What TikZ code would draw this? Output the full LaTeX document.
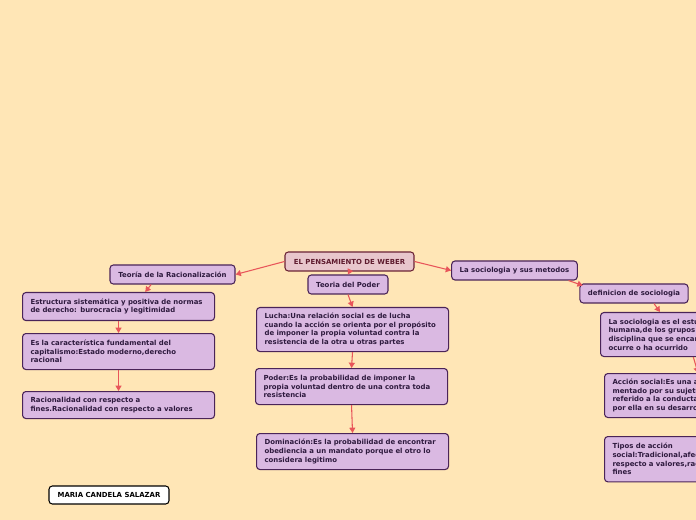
\documentclass[tikz,border=0pt]{standalone}
\usepackage{fontspec}
\setmainfont{DejaVu Sans}
\usetikzlibrary{arrows.meta,calc}
\definecolor{bg}{HTML}{FFE6B6}
\definecolor{lil}{HTML}{DAB9E2}
\definecolor{lilb}{HTML}{4A2458}
\definecolor{lilt}{HTML}{2E1A3E}
\definecolor{mainf}{HTML}{E8C6CC}
\definecolor{mainb}{HTML}{6B2335}
\definecolor{maint}{HTML}{5E1B2E}
\definecolor{arr}{HTML}{E8555A}
\begin{document}
\begin{tikzpicture}[x=0.75pt,y=-0.75pt,
  every node/.style={font=\fontsize{5.2}{6.5}\selectfont\bfseries},
  box/.style={draw=lilb,fill=lil,text=lilt,line width=0.8pt,rounded corners=2.5pt,inner xsep=6pt,inner ysep=2pt},
  onebox/.style={box,align=center,minimum height=14.25pt,anchor=center},
  multibox/.style={box,align=left,anchor=north west,text width=132pt},
  mainbox/.style={onebox,draw=mainb,fill=mainf,text=maint},
  namebox/.style={onebox,draw=black,fill=white,text=black,minimum height=13.5pt},
  con/.style={draw=arr,line width=0.8pt,-{Triangle[length=4pt,width=4.5pt]}}]
\useasboundingbox (0,0) rectangle (696,520);
\clip (0,0) rectangle (696,520);
\fill[bg] (0,0) rectangle (696,520);

\node[mainbox,minimum width=96.75pt] (main) at (349.5,261.5) {EL PENSAMIENTO DE WEBER};
\node[onebox,minimum width=93.75pt] (rac) at (172.5,274.5) {Teoría de la Racionalización};
\node[onebox,minimum width=60pt] (tpod) at (348,284.5) {Teoria del Poder};
\node[onebox,minimum width=93.75pt] (soc) at (514.5,270.5) {La sociologia y sus metodos};
\node[onebox,minimum width=81pt] (def) at (634,293.5) {definicion de sociologia};
\node[namebox,minimum width=90pt] (name) at (109,495) {MARIA CANDELA SALAZAR};

\node[multibox,minimum height=21pt] (estr) at (22,292) {Estructura sistemática y positiva de normas\\de derecho: burocracia y legitimidad};
\node[multibox,minimum height=27pt] (esla) at (22,333) {Es la característica fundamental del\\capitalismo:Estado moderno,derecho\\racional};
\node[multibox,minimum height=20.25pt] (racio) at (22,391) {Racionalidad con respecto a\\fines.Racionalidad con respecto a valores};

\node[multibox,minimum height=33pt] (lucha) at (256,307) {Lucha:Una relación social es de lucha\\cuando la acción se orienta por el propósito\\de imponer la propia voluntad contra la\\resistencia de la otra u otras partes};
\node[multibox,minimum height=27pt] (poder) at (255,368) {Poder:Es la probabilidad de imponer la\\propia voluntad dentro de una contra toda\\resistencia};
\node[multibox,minimum height=27pt] (dom) at (256,433) {Dominación:Es la probabilidad de encontrar\\obediencia a un mandato porque el otro lo\\considera legitimo};

\node[multibox,minimum height=33pt] (sdef) at (600,312) {La sociologia es el estudio de la acción\\humana,de los grupos sociales; una\\disciplina que se encarga de lo que\\ocurre o ha ocurrido};
\node[multibox,minimum height=33pt] (acc) at (604,373) {Acción social:Es una acción con sentido\\mentado por su sujeto o sujetos,\\referido a la conducta de otros, orientada\\por ella en su desarrollo};
\node[multibox,minimum height=34pt] (tipos) at (604,436) {Tipos de acción\\social:Tradicional,afectiva,racional con\\respecto a valores,racional con respecto a\\fines};

\draw[con] (main.west) -- (rac.east);
\draw[con] (main.south) -- (tpod.north);
\draw[con] (main.east) -- (soc.west);
\draw[con] ([xshift=-16pt]rac.south) -- ([xshift=20pt]estr.north);
\draw[con] (estr.south) -- (esla.north);
\draw[con] (esla.south) -- (racio.north);
\draw[con] (tpod.south) -- (lucha.north);
\draw[con] (lucha.south) -- (poder.north);
\draw[con] (poder.south) -- (dom.north);
\draw[con] ([xshift=-7pt]soc.south east) -- ([xshift=2.5pt,yshift=-1.5pt]def.north west);
\draw[con] ([xshift=15pt]def.south) -- ([xshift=45pt]sdef.north west);
\draw[con] ([xshift=70pt]sdef.south west) -- ([xshift=70.5pt]acc.north west);
\draw[con] ([xshift=72pt]acc.south west) -- ([xshift=71.5pt]tipos.north west);
\end{tikzpicture}
\end{document}
